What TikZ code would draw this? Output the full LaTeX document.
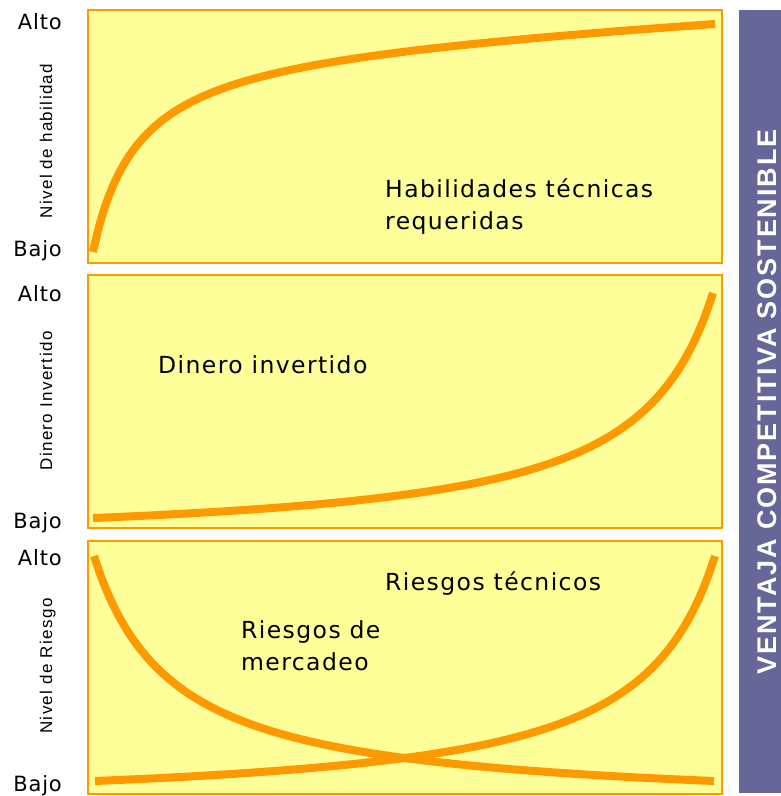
\documentclass[tikz,border=0pt]{standalone}
\usepackage{fontspec}
\setmainfont[LetterSpace=6]{DejaVu Sans}
\newfontfamily\nivelfont[LetterSpace=4]{DejaVu Sans}
\newfontfamily\ejefont[LetterSpace=8]{Liberation Sans}
\newfontfamily\barrafont[LetterSpace=7]{Liberation Sans}

\begin{document}
\begin{tikzpicture}[x=1pt,y=-1pt,
        curva/.style={line width=8pt,draw=naranja},
        panel/.style={fill=amarillo,draw=naranja,line width=2pt},
        nivel/.style={anchor=base east,inner sep=0pt,font=\nivelfont\fontsize{21}{25}\selectfont},
        eje/.style={anchor=base,rotate=90,inner sep=0pt,font=\ejefont\fontsize{17}{20}\selectfont},
        texto/.style={inner sep=0pt,align=left,font=\fontsize{23.5}{32}\selectfont}]
        %colores
        \definecolor{amarillo}{HTML}{FFFF99}
        \definecolor{naranja}{HTML}{FF9900}
        \definecolor{barra}{HTML}{666699}

        \useasboundingbox (0,0) rectangle (781,796);

        % Paneles y niveles
        \foreach \ya/\yb/\alto/\bajo/\ym/\etiq/\n in {10/263/29/256/141/Nivel de habilidad/1,
                275/528/301/528/401/Dinero Invertido/2,541/794/565/791/666/Nivel de Riesgo/3}{
            \draw[panel] (88,\ya) rectangle (722,\yb);
            \node[nivel] (alto\n) at (62,\alto) {Alto};
            \node[nivel] (bajo\n) at (62,\bajo) {Bajo};
            \node[eje] (eje\n) at (52,\ym) {\etiq};
        }

        % Curvas
        \draw[curva] plot[domain=0:622,samples=150,smooth] ({93+\x},{40.36+9524/(\x+45)-0.0493*\x});
        \draw[curva] plot[domain=0:62,samples=80,smooth] ({93+10*\x},{547.03-2032.3/(70-\x)});
        \draw[curva] plot[domain=0:62,samples=80,smooth] ({95+10*\x},{810.03-2032.3/(70-\x)});
        \draw[curva] plot[domain=0:62,samples=80,smooth] ({714-10*\x},{810.03-2032.3/(70-\x)});

        % Textos
        \node[texto,anchor=north west] (habilidades) at (385,178.5) {Habilidades técnicas\\requeridas};
        \node[texto,anchor=base west] (dinero) at (158,373) {Dinero invertido};
        \node[texto,anchor=base west] (tecnicos) at (385,590) {Riesgos técnicos};
        \node[texto,anchor=north west] (mercadeo) at (241,620.5) {Riesgos de\\mercadeo};

        % Barra lateral
        \fill[barra] (739,10) rectangle (781,793);
        \node[rotate=90,inner sep=0pt,text=white,font=\barrafont\bfseries\fontsize{27}{30}\selectfont]
            (ventaja) at (767.5,402) {VENTAJA COMPETITIVA SOSTENIBLE};
    \end{tikzpicture}
\end{document}
